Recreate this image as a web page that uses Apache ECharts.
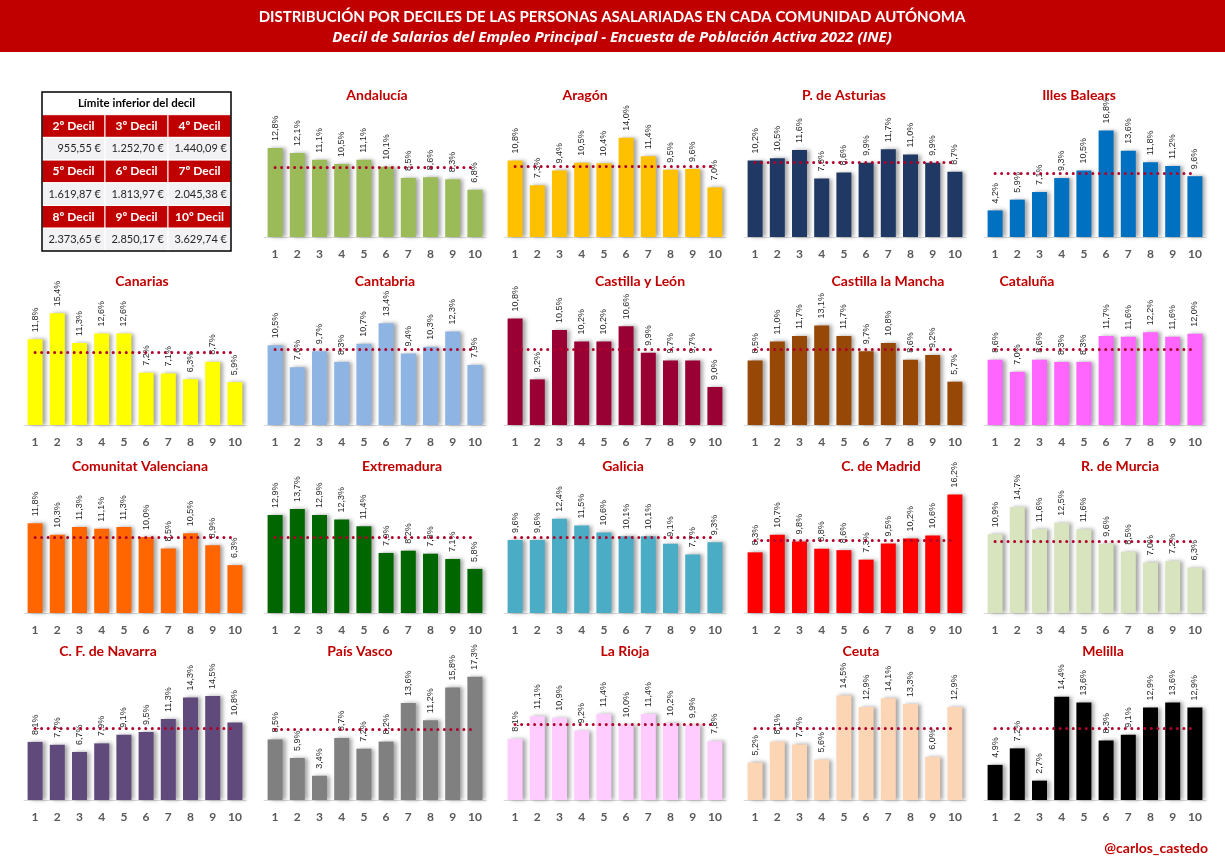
<!DOCTYPE html>
<html><head><meta charset="utf-8">
<script src="https://cdn.jsdelivr.net/npm/echarts@6/dist/echarts.min.js"></script>
<style>html,body{margin:0;padding:0;background:#fff}#c{width:1225px;height:860px}</style>
</head><body><div id="c"></div>
<script>
// ---------------- DATA ----------------
const mainTitle = 'DISTRIBUCIÓN POR DECILES DE LAS PERSONAS ASALARIADAS EN CADA COMUNIDAD AUTÓNOMA';
const subTitle = 'Decil de Salarios del Empleo Principal - Encuesta de Población Activa 2022 (INE)';
const signature = '@carlos_castedo';
const deciles = ['1','2','3','4','5','6','7','8','9','10'];
const referenceLevel = 10;

const tableHeader = 'Límite inferior del decil';
const decilNames = ['2º Decil','3º Decil','4º Decil','5º Decil','6º Decil','7º Decil','8º Decil','9º Decil','10º Decil'];
const decilLimits = ['955,55 €','1.252,70 €','1.440,09 €','1.619,87 €','1.813,97 €','2.045,38 €','2.373,65 €','2.850,17 €','3.629,74 €'];

const panelNames = ['Andalucía','Aragón','P. de Asturias','Illes Balears','Canarias','Cantabria','Castilla y León','Castilla la Mancha','Cataluña','Comunitat Valenciana','Extremadura','Galicia','C. de Madrid','R. de Murcia','C. F. de Navarra','País Vasco','La Rioja','Ceuta','Melilla'];

const andalucia   = [12.8,12.1,11.1,10.5,11.1,10.1,8.5,8.6,8.3,6.8];
const aragon      = [10.8,7.3,9.4,10.5,10.4,14.0,11.4,9.5,9.6,7.0];
const asturias    = [10.2,10.5,11.6,7.8,8.6,9.9,11.7,11.0,9.9,8.7];
const baleares    = [4.2,5.9,7.1,9.3,10.5,16.8,13.6,11.8,11.2,9.6];
const canarias    = [11.8,15.4,11.3,12.6,12.6,7.2,7.1,6.3,8.7,5.9];
const cantabria   = [10.5,7.6,9.7,8.3,10.7,13.4,9.4,10.3,12.3,7.9];
const castillaLeon= [10.8,9.2,10.5,10.2,10.2,10.6,9.9,9.7,9.7,9.0];
const castillaLM  = [8.5,11.0,11.7,13.1,11.7,9.7,10.8,8.6,9.2,5.7];
const cataluna    = [8.6,7.0,8.6,8.3,8.3,11.7,11.6,12.2,11.6,12.0];
const valenciana  = [11.8,10.3,11.3,11.1,11.3,10.0,8.5,10.5,8.9,6.3];
const extremadura = [12.9,13.7,12.9,12.3,11.4,7.9,8.2,7.8,7.1,5.8];
const galicia     = [9.6,9.6,12.4,11.5,10.6,10.1,10.1,9.1,7.7,9.3];
const madrid      = [8.3,10.7,9.8,8.8,8.6,7.3,9.5,10.2,10.6,16.2];
const murcia      = [10.9,14.7,11.6,12.5,11.6,9.6,8.5,7.0,7.2,6.3];
const navarra     = [8.1,7.7,6.7,7.9,9.1,9.5,11.3,14.3,14.5,10.8];
const paisVasco   = [8.5,5.9,3.4,8.7,7.2,8.2,13.6,11.2,15.8,17.3];
const rioja       = [8.1,11.1,10.9,9.2,11.4,10.0,11.4,10.2,9.9,7.8];
const ceuta       = [5.2,8.1,7.7,5.6,14.5,12.9,14.1,13.3,6.0,12.9];
const melilla     = [4.9,7.2,2.7,14.4,13.6,8.3,9.1,12.9,13.6,12.9];

const panelValues = [andalucia,aragon,asturias,baleares,canarias,cantabria,castillaLeon,castillaLM,cataluna,valenciana,extremadura,galicia,madrid,murcia,navarra,paisVasco,rioja,ceuta,melilla];

// ---------------- STYLE / LAYOUT ----------------
const panelColors = ['#9BBB59','#FFC000','#1F3864','#0070C0','#FFFF00','#8DB4E2','#990033','#974706','#FF66FF','#FF6600','#006600','#4BACC6','#FF0000','#D7E4BD','#604A7B','#808080','#FFCCFF','#FCD5B5','#000000'];
const axisMin = [0,0,0,0,0,0,8,0,0,0,0,0,0,0,0,0,0,0,0];
const axisMax = [16.4,16.1,15.2,18.0,15.7,15.0,11.0,15.0,15.0,15.0,15.0,15.0,15.6,15.8,15.9,16.0,15.1,15.8,15.9];
const titleDx = [2,-30,-11,-16, 7,10,25,33,-68, 5,27,8,26,25, -27,-15,10,6,8];
const rowBase = [237,425,613,800];
const titleY = [97,283,468,653];
const plotH = 114, plotW = 222, colStart = 24, colStep = 240;
const RED = '#C00000';

const fmt = v => v.toFixed(1).replace('.', ',') + '%';

const grids = [], xAxes = [], yAxes = [], series = [], titles = [];
panelValues.forEach((vals, i) => {
  const slot = i + 1, row = Math.floor(slot / 5), col = slot % 5;
  const left = colStart + colStep * col;
  grids.push({left: left, top: rowBase[row] - plotH, width: plotW, height: plotH});
  xAxes.push({type:'category', gridIndex:i, data:deciles,
    axisLine:{lineStyle:{color:'#D9D9D9', width:1}}, axisTick:{show:false},
    axisLabel:{color:'#595959', fontSize:12, fontFamily:'Lato', fontWeight:'bold', margin:11}});
  yAxes.push({type:'value', gridIndex:i, min:axisMin[i], max:axisMax[i], show:false, splitLine:{show:false}});
  series.push({type:'bar', xAxisIndex:i, yAxisIndex:i, data:vals, barWidth:15, clip: axisMin[i] > 0,
    itemStyle:{color:panelColors[i], shadowColor:'rgba(0,0,0,0.35)', shadowBlur:4, shadowOffsetX:3, shadowOffsetY:0},
    label:{show:true, position:'top', rotate:90, align:'left', verticalAlign:'middle', distance:7,
      fontSize:9, color:'#262626', fontFamily:'Liberation Sans', formatter:p => fmt(p.value)},
    markLine:{silent:true, symbol:['none','none'], label:{show:false},
      lineStyle:{color:'#B0002A', width:3, type:[0.01,6.5], cap:'round'},
      emphasis:{disabled:true},
      data:[[{coord:[0, referenceLevel]},{coord:[deciles.length-1, referenceLevel]}]]}
  });
  titles.push({text:panelNames[i], left: left + plotW/2 + titleDx[i], top: titleY[row] - 9, textAlign:'center', padding:0,
    textStyle:{color:RED, fontSize:14, fontWeight:'bold', fontFamily:'Lato'}});
});

// ---------------- graphics: banner, table, signature ----------------
const graphics = [];
graphics.push({type:'rect', left:0, top:0, shape:{x:0,y:0,width:1225,height:52}, style:{fill:RED}, z:0});
graphics.push({type:'text', x:612, y:17, style:{text:mainTitle, fill:'#fff', font:'bold 15px Lato', align:'center', verticalAlign:'middle'}, z:1});
graphics.push({type:'text', x:612, y:38, style:{text:subTitle, fill:'#fff', font:'italic bold 15px "Open Sans"', align:'center', verticalAlign:'middle'}, z:1});

const tx = 42, ty = 92, cw = 63, rh = 22.7;
graphics.push({type:'rect', shape:{x:tx, y:ty, width:cw*3, height:rh}, style:{fill:'#fff'}, z:1});
graphics.push({type:'text', x:tx + cw*1.5, y:ty + rh/2, style:{text:tableHeader, fill:'#000', font:'bold 11.5px Lato', align:'center', verticalAlign:'middle'}, z:2});
for (let r = 0; r < 3; r++) {
  for (let c = 0; c < 3; c++) {
    const idx = r*3 + c;
    const x = tx + cw*c, yRed = ty + rh*(1 + 2*r), yVal = ty + rh*(2 + 2*r);
    graphics.push({type:'rect', shape:{x:x, y:yRed, width:cw, height:rh}, style:{fill:RED, stroke:'#fff', lineWidth:1}, z:1});
    graphics.push({type:'text', x:x + cw/2, y:yRed + rh/2, style:{text:decilNames[idx], fill:'#fff', font:'bold 12px Lato', align:'center', verticalAlign:'middle'}, z:2});
    graphics.push({type:'rect', shape:{x:x, y:yVal, width:cw, height:rh}, style:{fill:'#F2F2F4', stroke:'#fff', lineWidth:1}, z:1});
    graphics.push({type:'text', x:x + cw - 4, y:yVal + rh/2, style:{text:decilLimits[idx], fill:'#262626', font:'11px Lato', align:'right', verticalAlign:'middle'}, z:2});
  }
}
graphics.push({type:'rect', shape:{x:tx, y:ty, width:cw*3, height:rh*7}, style:{fill:'none', stroke:'#000', lineWidth:1.5}, z:3});
graphics.push({type:'text', x:1208, y:848, style:{text:signature, fill:RED, font:'bold 14px Lato', align:'right', verticalAlign:'middle'}, z:2});

const chart = echarts.init(document.getElementById('c'));
chart.setOption({
  animation:false,
  backgroundColor:'#fff',
  title:titles,
  grid:grids, xAxis:xAxes, yAxis:yAxes, series:series,
  graphic:graphics
});
</script></body></html>
